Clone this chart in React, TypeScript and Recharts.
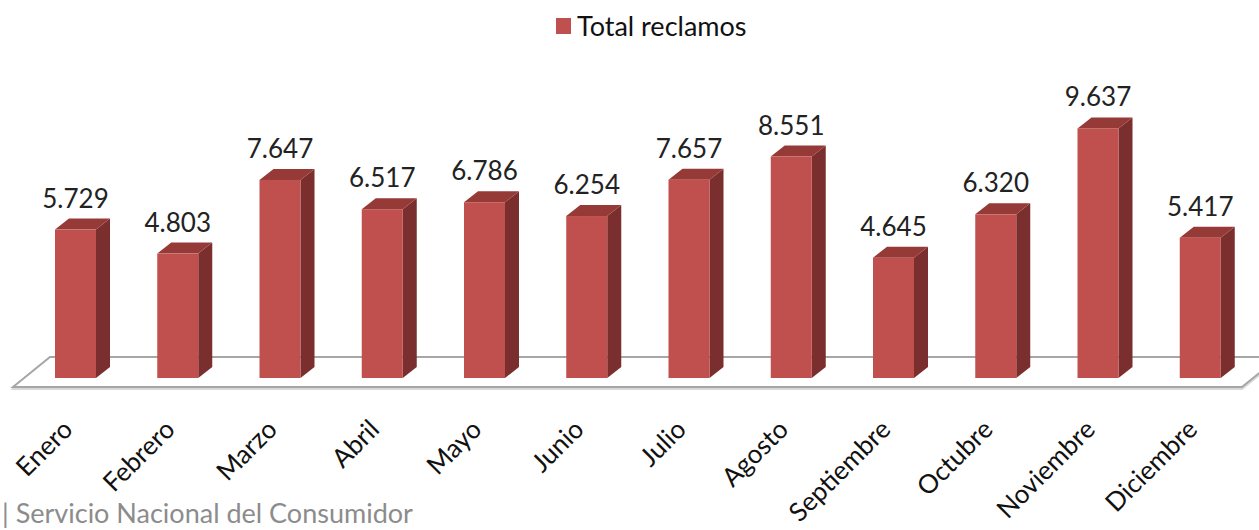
import { Bar, BarChart, LabelList, XAxis, YAxis, usePlotArea } from 'recharts'

const MESES = [
  'Enero',
  'Febrero',
  'Marzo',
  'Abril',
  'Mayo',
  'Junio',
  'Julio',
  'Agosto',
  'Septiembre',
  'Octubre',
  'Noviembre',
  'Diciembre',
]
const TOTAL_RECLAMOS = [5729, 4803, 7647, 6517, 6786, 6254, 7657, 8551, 4645, 6320, 9637, 5417]

const datos = MESES.map((mes, i) => ({ mes, total: TOTAL_RECLAMOS[i] }))

const ROJO_FRENTE = '#C0504D'
const ROJO_TECHO = '#963A37'
const ROJO_LADO = '#7A2E2D'
const FUENTE = 'Lato, "Open Sans", sans-serif'

// profundidad del efecto 3D
const DX = 14
const DY = 11

const miles = (n: number) => String(n).replace(/\B(?=(\d{3})+(?!\d))/g, '.')

function Barra3D(props: any) {
  const { x, y, width: w, height: h } = props
  if (h <= 0) return null
  return (
    <g>
      <polygon
        points={`${x + w},${y} ${x + w + DX},${y - DY} ${x + w + DX},${y + h - DY} ${x + w},${y + h}`}
        fill={ROJO_LADO}
      />
      <polygon points={`${x},${y} ${x + DX},${y - DY} ${x + w + DX},${y - DY} ${x + w},${y}`} fill={ROJO_TECHO} />
      <rect x={x} y={y} width={w} height={h} fill={ROJO_FRENTE} />
    </g>
  )
}

function Piso() {
  const area = usePlotArea()
  if (!area) return null
  const base = area.y + area.height
  const izq = area.x
  const der = area.x + area.width
  const frente = base + 9
  const fondo = base - 21
  const puntos = `${izq - 11},${frente} ${izq + 26},${fondo} ${der + 28},${fondo} ${der - 9},${frente}`
  return (
    <g>
      <polygon points={puntos} transform="translate(0,2)" fill="none" stroke="#D9D9D9" strokeWidth={2} />
      <polygon points={puntos} fill="#fff" stroke="#A6A6A6" strokeWidth={2} />
    </g>
  )
}

function TickMes(props: any) {
  const { x, y, payload } = props
  const ax = x - 1
  const ay = y + 53
  return (
    <text
      x={ax}
      y={ay}
      transform={`rotate(-45 ${ax} ${ay})`}
      textAnchor="end"
      fontFamily={FUENTE}
      fontSize={26}
      fill="#111"
    >
      {payload.value}
    </text>
  )
}

function Etiqueta(props: any) {
  const { x, y, width, value } = props
  return (
    <text x={x + width / 2} y={y - 22} textAnchor="middle" fontFamily={FUENTE} fontSize={26} fill="#222">
      {miles(Number(value))}
    </text>
  )
}

export default function App() {
  return (
    <div style={{ position: 'absolute', left: 0, top: 0, width: 1259, height: 530, overflow: 'hidden' }}>
      <div
        style={{
          position: 'absolute',
          left: 556,
          top: 9,
          display: 'flex',
          alignItems: 'center',
          fontFamily: FUENTE,
          fontSize: 27,
          color: '#111',
        }}
      >
        <span style={{ display: 'inline-block', width: 15, height: 16, background: ROJO_FRENTE, marginRight: 6 }} />
        Total reclamos
      </div>
      <BarChart width={1259} height={530} data={datos} margin={{ top: 119, right: 8, bottom: 0, left: 24 }}>
        <Piso />
        <XAxis
          dataKey="mes"
          height={152}
          interval={0}
          axisLine={false}
          tickLine={false}
          tickSize={0}
          tickMargin={0}
          tick={<TickMes />}
        />
        <YAxis hide domain={[0, 10000]} />
        <Bar dataKey="total" barSize={41} shape={<Barra3D />} isAnimationActive={false}>
          <LabelList dataKey="total" content={<Etiqueta />} />
        </Bar>
      </BarChart>
      <div
        style={{
          position: 'absolute',
          left: 2,
          top: 496,
          height: 33,
          lineHeight: '33px',
          fontFamily: FUENTE,
          fontSize: 27,
          color: '#8C8C8C',
          whiteSpace: 'nowrap',
        }}
      >
        | Servicio Nacional del Consumidor
      </div>
    </div>
  )
}
